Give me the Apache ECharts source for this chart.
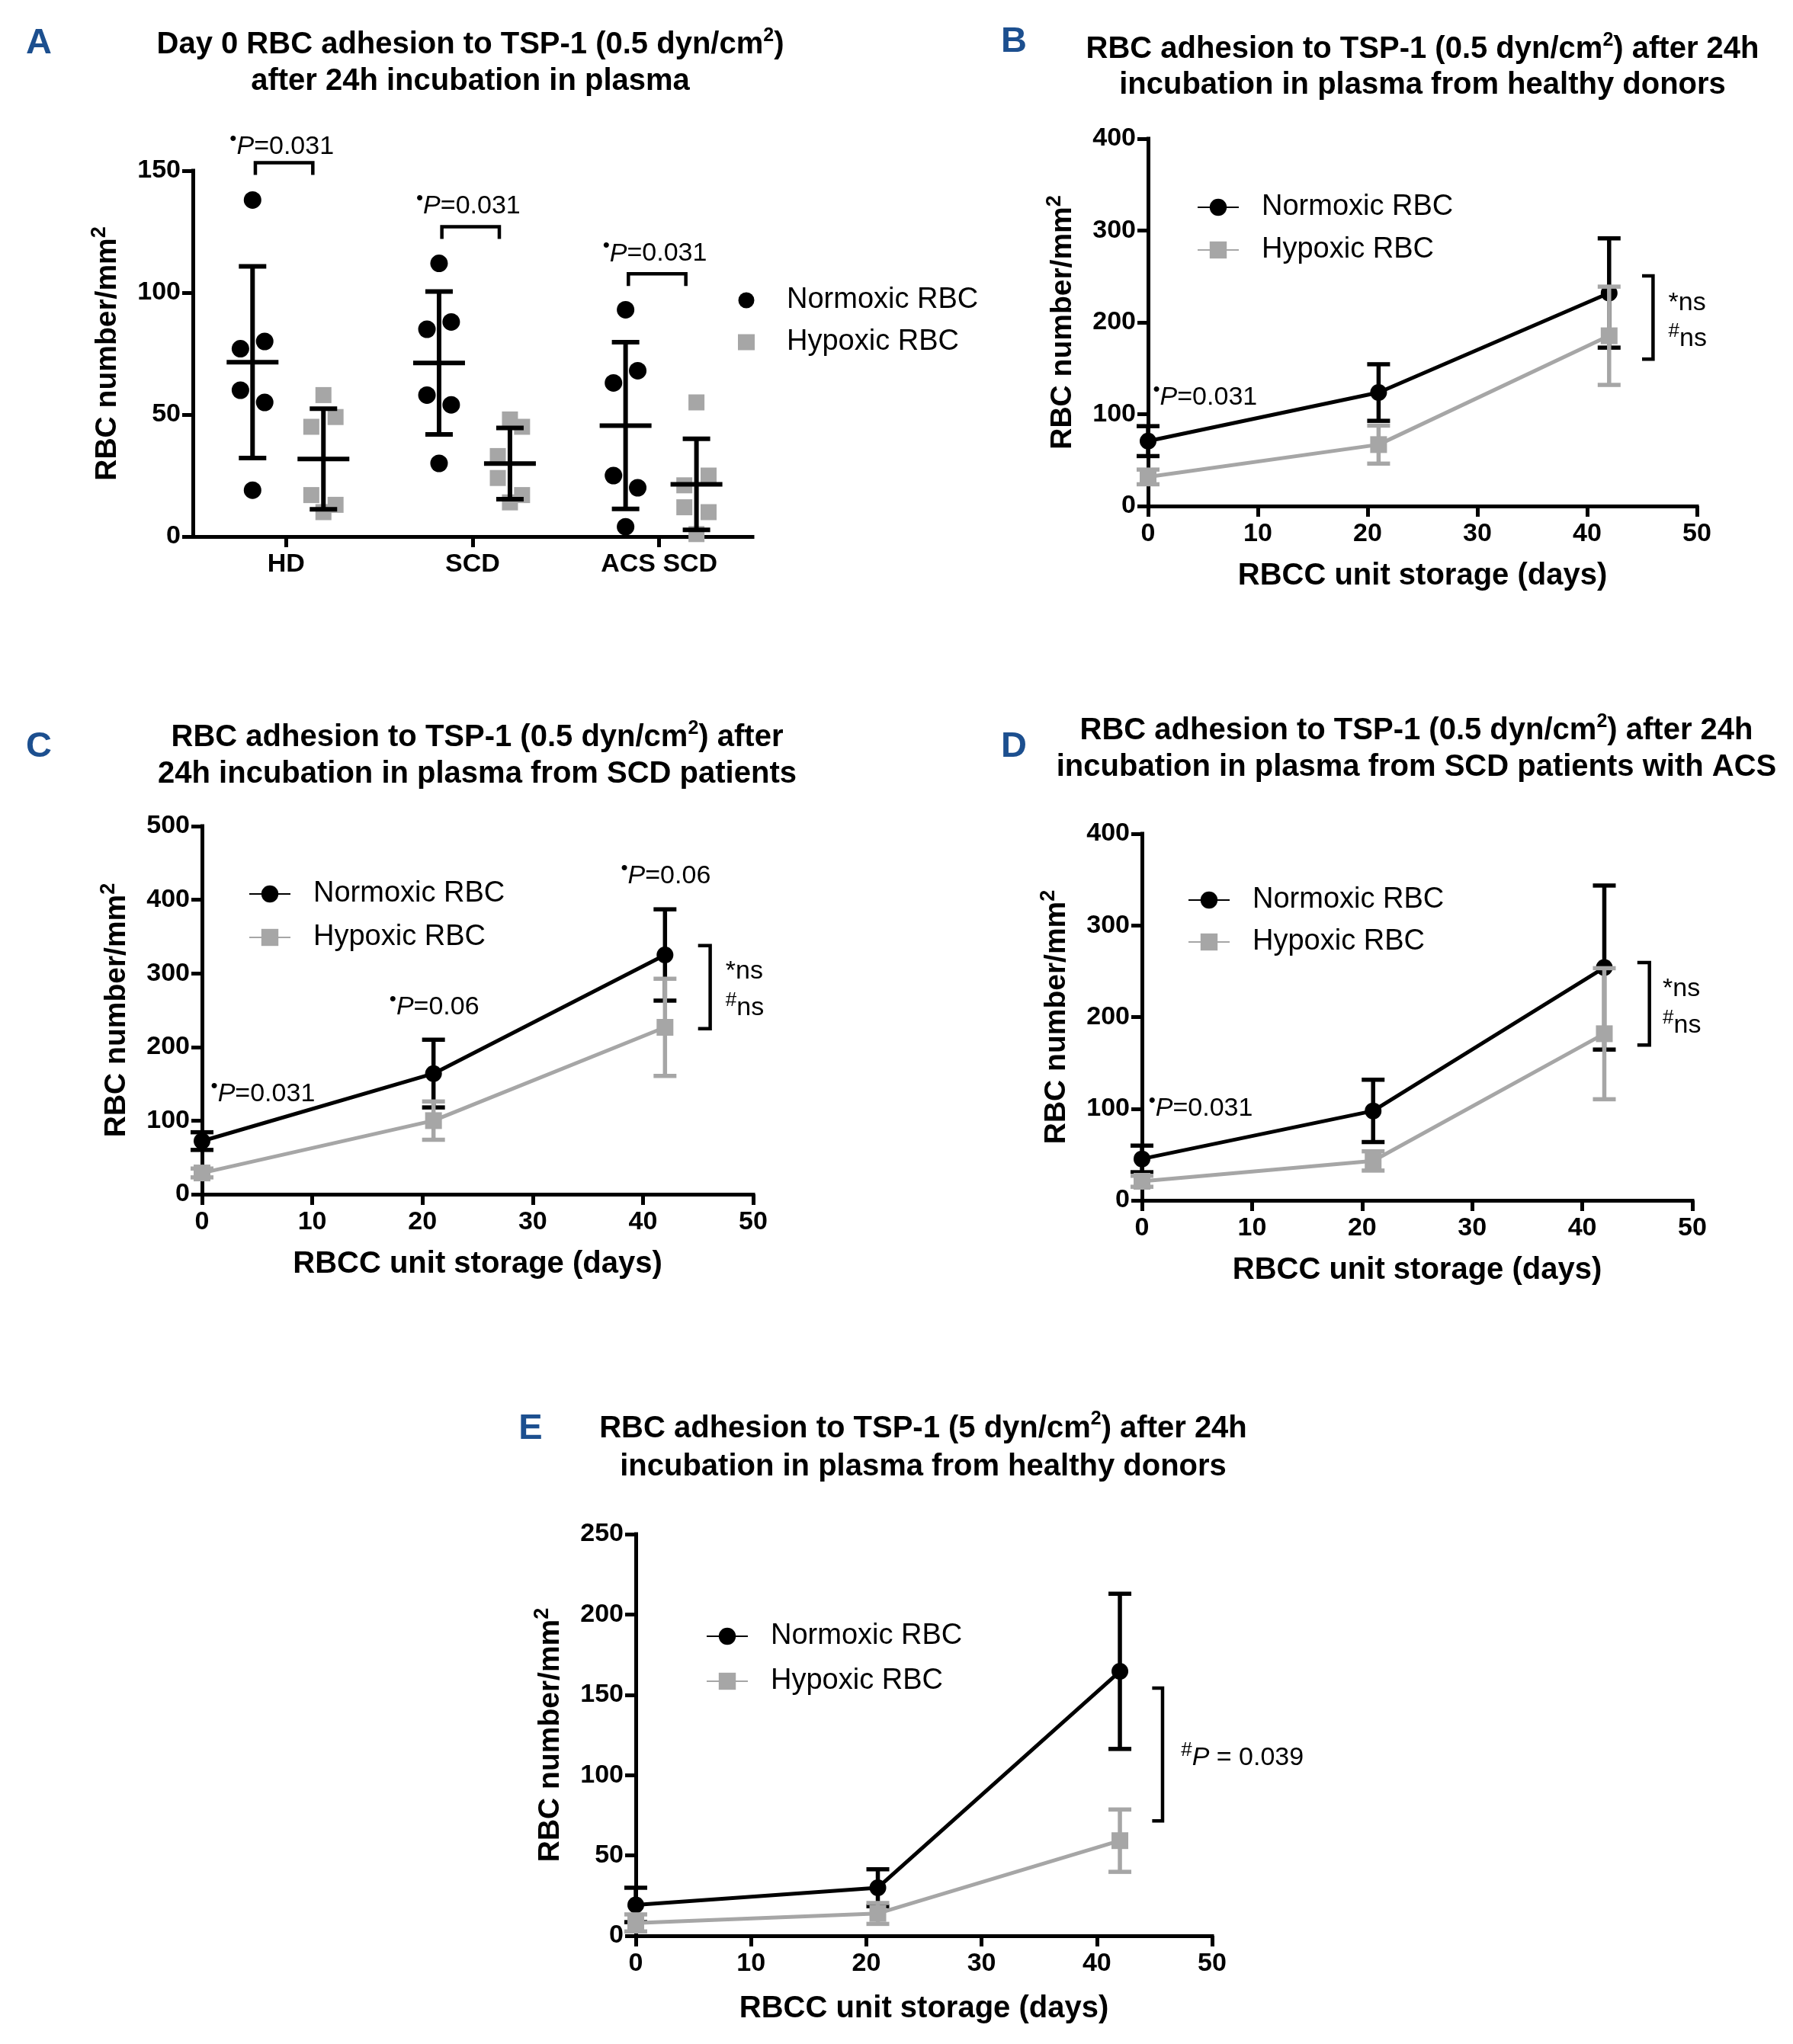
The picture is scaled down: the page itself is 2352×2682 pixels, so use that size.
<!DOCTYPE html>
<html><head><meta charset="utf-8">
<script src="https://cdn.jsdelivr.net/npm/echarts@6/dist/echarts.min.js"></script>
<style>html,body{margin:0;padding:0;background:#fff}#c{width:2352px;height:2682px}</style>
</head><body><div id="c"></div>
<script>
// ---------------- DATA ----------------
// Panel A (individual donors, RBC number/mm2)
const groupsA = ['HD', 'SCD', 'ACS SCD'];
const normoxA = [[138, 80, 77, 60, 55, 19], [112, 88, 85, 58, 54, 30], [93, 68, 63, 25, 20, 4]];
const hypoxA = [[58, 49, 45, 17, 13, 10], [48, 45, 33, 24, 17, 14], [55, 25, 21, 12, 10, 1]];
const normoxMeanA = [71.5, 71.2, 45.5];
const normoxSdA = [39.3, 29.3, 34.2];
const hypoxMeanA = [31.8, 29.9, 21.4];
const hypoxSdA = [20.6, 14.6, 18.7];
const jitterA = [0, 1, -1, -1, 1, 0];
const pTextA = ['0.031', '0.031', '0.031'];

// Panels B-E (storage days)
const days = [0, 21, 42];
const normoxB = [70.7, 123.6, 232];   const normoxSdB = [16.3, 30.8, 59.5];
const hypoxB = [31.7, 66.9, 185.4];   const hypoxSdB = [8, 20.7, 53.5];
const normoxC = [72.2, 163.9, 325];   const normoxSdC = [12, 46, 62];
const hypoxC = [28.9, 100, 226.7];    const hypoxSdC = [6, 26, 66];
const normoxD = [45.2, 97.6, 254];    const normoxSdD = [14.5, 34, 89.5];
const hypoxD = [20.8, 43, 181.8];     const hypoxSdD = [6, 10.5, 71.5];
const normoxE = [19.2, 29.9, 164.6];  const normoxSdE = [10.7, 11.5, 48.3];
const hypoxE = [8, 13.9, 59.2];       const hypoxSdE = [5.3, 6.5, 19.4];

const xTicksDays = [0, 10, 20, 30, 40, 50];

// ---------------- STYLE / LAYOUT ----------------
const FONT = "'Liberation Sans', Arial, Helvetica, sans-serif";
const BLACK = '#000000';
const GRAY = '#a6a6a6';
const BLUE = '#1c4f8f';

const grids = [
  {left: 253, top: 224, width: 734, height: 480},   // A
  {left: 1506, top: 182, width: 720, height: 482},  // B
  {left: 265, top: 1084, width: 723, height: 483},  // C
  {left: 1498, top: 1094, width: 722, height: 481}, // D
  {left: 834, top: 2013, width: 756, height: 527}   // E
];

const titleCfg = [
  {x: 617, top: 35, text: 'Day 0 RBC adhesion to TSP-1 (0.5 dyn/cm{sup|2})\nafter 24h incubation in plasma', lh: 48},
  {x: 1866, top: 41, text: 'RBC adhesion to TSP-1 (0.5 dyn/cm{sup|2}) after 24h\nincubation in plasma from healthy donors', lh: 47},
  {x: 626, top: 944, text: 'RBC adhesion to TSP-1 (0.5 dyn/cm{sup|2}) after\n24h incubation in plasma from SCD patients', lh: 48},
  {x: 1858, top: 935, text: 'RBC adhesion to TSP-1 (0.5 dyn/cm{sup|2}) after 24h\nincubation in plasma from SCD patients with ACS', lh: 48},
  {x: 1211, top: 1850, text: 'RBC adhesion to TSP-1 (5 dyn/cm{sup|2}) after 24h\nincubation in plasma from healthy donors', lh: 50}
];
const letterCfg = [
  {t: 'A', x: 51, y: 57}, {t: 'B', x: 1330, y: 55}, {t: 'C', x: 51, y: 980},
  {t: 'D', x: 1330, y: 980}, {t: 'E', x: 696, y: 1875}
];
const legendCfg = [
  {left: 968, top: 372, gap: 11},
  {left: 1570, top: 250, gap: 12},
  {left: 326, top: 1151, gap: 13},
  {left: 1558, top: 1159, gap: 11},
  {left: 926, top: 2125, gap: 15}
];

// annotation placements (data coordinates)
const bracketA = {x1: 0.335, x2: 0.643, top: [153.3, 127, 107.7], leg: 5, textX: 0.477, textY: [159.7, 135.3, 115.9]};
const bracketsBE = [
  [46.0, 250.6, 160, 45.0],
  [46.1, 337.8, 225, 45.0],
  [46.1, 259.4, 169.4, 45.0],
  [45.7, 154.2, 71.5, 44.8]
];
const annosBE = [
  [{x: 0.45, y: 118, t: '{dot|•}{i|P}=0.031'}, {x: 47.4, y: 221, t: '*ns'}, {x: 47.4, y: 182, t: '{sup|#}ns'}],
  [{x: 0.8, y: 136, t: '{dot|•}{i|P}=0.031'}, {x: 17, y: 254, t: '{dot|•}{i|P}=0.06'}, {x: 38, y: 432, t: '{dot|•}{i|P}=0.06'},
   {x: 47.5, y: 303, t: '*ns'}, {x: 47.5, y: 253, t: '{sup|#}ns'}],
  [{x: 0.6, y: 100, t: '{dot|•}{i|P}=0.031'}, {x: 47.3, y: 231, t: '*ns'}, {x: 47.3, y: 190.7, t: '{sup|#}ns'}],
  [{x: 47.3, y: 110.7, t: '{sup|#}{i|P} = 0.039'}]
];
const yRange = [[0, 150, 50], [0, 400, 100], [0, 500, 100], [0, 400, 100], [0, 250, 50]];
const nameGapX = [0, 72, 72, 72, 76];

const annoRich = {
  dot: {fontFamily: FONT, fontSize: 26, verticalAlign: 'top', lineHeight: 24, fill: BLACK, color: BLACK},
  i: {fontFamily: FONT, fontSize: 34, fontStyle: 'italic', lineHeight: 46, fill: BLACK, color: BLACK},
  t: {fontFamily: FONT, fontSize: 34, lineHeight: 46, fill: BLACK, color: BLACK},
  sup: {fontFamily: FONT, fontSize: 26, verticalAlign: 'top', lineHeight: 24, fill: BLACK, color: BLACK}
};

// ---------------- BUILD ----------------
const chart = echarts.init(document.getElementById('c'));

function axisLook() {
  return {
    axisLine: {show: true, onZero: false, lineStyle: {color: BLACK, width: 5, cap: 'square'}},
    axisTick: {show: true, length: 14, lineStyle: {color: BLACK, width: 5}},
    axisLabel: {color: BLACK, fontFamily: FONT, fontWeight: 'bold', fontSize: 34},
    splitLine: {show: false}
  };
}

const xAxes = [], yAxes = [];
xAxes.push(Object.assign(axisLook(), {
  gridIndex: 0, type: 'category', data: groupsA, boundaryGap: true, position: 'bottom',
  axisTick: {show: true, alignWithLabel: true, length: 14, lineStyle: {color: BLACK, width: 5}}
}));
xAxes[0].axisLabel.margin = 20;
xAxes.push({gridIndex: 0, type: 'value', min: 0, max: 3, show: false, position: 'bottom'});
for (let p = 1; p <= 4; p++) {
  const ax = Object.assign(axisLook(), {
    gridIndex: p, type: 'value', min: xTicksDays[0], max: xTicksDays[xTicksDays.length - 1],
    interval: xTicksDays[1] - xTicksDays[0],
    name: 'RBCC unit storage (days)', nameLocation: 'middle', nameGap: nameGapX[p],
    nameTextStyle: {fontFamily: FONT, fontWeight: 'bold', fontSize: 40, color: BLACK}
  });
  ax.axisLabel.margin = 20;
  xAxes.push(ax);
}
for (let p = 0; p <= 4; p++) {
  const ax = Object.assign(axisLook(), {
    gridIndex: p, type: 'value', min: yRange[p][0], max: yRange[p][1], interval: yRange[p][2],
    name: 'RBC number/mm{sup|2}', nameLocation: 'middle', nameGap: 88, nameRotate: 90,
    nameTextStyle: {fontFamily: FONT, fontWeight: 'bold', fontSize: 39, color: BLACK, lineHeight: 48,
      rich: {sup: {fontFamily: FONT, fontWeight: 'bold', fontSize: 27, verticalAlign: 'top', lineHeight: 26, color: BLACK}}}
  });
  ax.axisLabel.margin = 16;
  yAxes.push(ax);
}

function barRender(color, capW, meanW, lw) {
  return function (params, api) {
    const x = api.value(0), m = api.value(1), sd = api.value(2);
    const t = api.coord([x, m + sd]), b = api.coord([x, m - sd]), c = api.coord([x, m]);
    const st = {stroke: color, lineWidth: lw, fill: null};
    const ch = [
      {type: 'line', shape: {x1: t[0], y1: t[1], x2: b[0], y2: b[1]}, style: st},
      {type: 'line', shape: {x1: t[0] - capW / 2, y1: t[1], x2: t[0] + capW / 2, y2: t[1]}, style: st},
      {type: 'line', shape: {x1: b[0] - capW / 2, y1: b[1], x2: b[0] + capW / 2, y2: b[1]}, style: st}
    ];
    if (meanW) ch.push({type: 'line', shape: {x1: c[0] - meanW / 2, y1: c[1], x2: c[0] + meanW / 2, y2: c[1]}, style: st});
    return {type: 'group', children: ch};
  };
}

// wrap plain parts of annotation text in a tall-line token so superscripts rise
function richify(s) {
  return s.split(/(\{[a-z]+\|[^}]*\})/).filter(x => x).map(x => x.charAt(0) === '{' ? x : '{t|' + x + '}').join('');
}

const series = [];
const nA = [], hA = [], nBarA = [], hBarA = [];
groupsA.forEach((g, gi) => {
  normoxA[gi].forEach((v, k) => nA.push([gi + 0.32 + jitterA[k] * 0.065, v]));
  hypoxA[gi].forEach((v, k) => hA.push([gi + 0.70 + jitterA[k] * 0.065, v]));
  nBarA.push([gi + 0.32, normoxMeanA[gi], normoxSdA[gi]]);
  hBarA.push([gi + 0.70, hypoxMeanA[gi], hypoxSdA[gi]]);
});
series.push({type: 'scatter', name: 'Normoxic RBC|A', xAxisIndex: 1, yAxisIndex: 0, data: nA,
  symbol: 'circle', symbolSize: 23, itemStyle: {color: BLACK, opacity: 1}, z: 2, silent: true});
series.push({type: 'scatter', name: 'Hypoxic RBC|A', xAxisIndex: 1, yAxisIndex: 0, data: hA,
  symbol: 'rect', symbolSize: 21, itemStyle: {color: GRAY, opacity: 1}, z: 2, silent: true});
series.push({type: 'custom', xAxisIndex: 1, yAxisIndex: 0, data: nBarA, renderItem: barRender(BLACK, 36, 68, 6), z: 4, silent: true});
series.push({type: 'custom', xAxisIndex: 1, yAxisIndex: 0, data: hBarA, renderItem: barRender(BLACK, 36, 68, 6), z: 4, silent: true});
series.push({type: 'custom', xAxisIndex: 1, yAxisIndex: 0, z: 5, silent: true,
  data: groupsA.map((g, gi) => [gi + bracketA.x1, bracketA.top[gi], gi + bracketA.x2, bracketA.textY[gi], gi + bracketA.textX]),
  renderItem: function (params, api) {
    const x1 = api.value(0), yt = api.value(1), x2 = api.value(2), ty = api.value(3), tx = api.value(4);
    const a = api.coord([x1, yt - bracketA.leg]), b = api.coord([x1, yt]), c = api.coord([x2, yt]), d = api.coord([x2, yt - bracketA.leg]);
    const tp = api.coord([tx, ty]);
    return {type: 'group', children: [
      {type: 'polyline', shape: {points: [a, b, c, d]}, style: {stroke: BLACK, lineWidth: 4.5, fill: null}},
      {type: 'text', x: tp[0], y: tp[1], style: {text: richify('{dot|•}{i|P}=' + pTextA[params.dataIndex]), rich: annoRich,
        fontFamily: FONT, fontSize: 34, fill: BLACK, align: 'center', verticalAlign: 'middle'}}
    ]};
  }});

const lineSets = [
  [normoxB, normoxSdB, hypoxB, hypoxSdB],
  [normoxC, normoxSdC, hypoxC, hypoxSdC],
  [normoxD, normoxSdD, hypoxD, hypoxSdD],
  [normoxE, normoxSdE, hypoxE, hypoxSdE]
];
const letters = ['B', 'C', 'D', 'E'];
lineSets.forEach((set, i) => {
  const xi = i + 2, yi = i + 1, L = letters[i];
  const [nv, nsd, hv, hsd] = set;
  series.push({type: 'custom', xAxisIndex: xi, yAxisIndex: yi, z: 2, silent: true,
    data: days.map((d, k) => [d, nv[k], nsd[k]]), renderItem: barRender(BLACK, 30, 0, 5.5)});
  series.push({type: 'line', name: 'Normoxic RBC|' + L, xAxisIndex: xi, yAxisIndex: yi, z: 3, silent: true,
    data: days.map((d, k) => [d, nv[k]]), symbol: 'circle', symbolSize: 22, showSymbol: true,
    lineStyle: {color: BLACK, width: 5}, itemStyle: {color: BLACK}});
  series.push({type: 'custom', xAxisIndex: xi, yAxisIndex: yi, z: 4, silent: true,
    data: days.map((d, k) => [d, hv[k], hsd[k]]), renderItem: barRender(GRAY, 30, 0, 5.5)});
  series.push({type: 'line', name: 'Hypoxic RBC|' + L, xAxisIndex: xi, yAxisIndex: yi, z: 5, silent: true,
    data: days.map((d, k) => [d, hv[k]]), symbol: 'rect', symbolSize: 22, showSymbol: true,
    lineStyle: {color: GRAY, width: 5}, itemStyle: {color: GRAY}});
  series.push({type: 'custom', xAxisIndex: xi, yAxisIndex: yi, z: 6, silent: true,
    data: [bracketsBE[i]],
    renderItem: function (params, api) {
      const x = api.value(0), yt = api.value(1), yb = api.value(2), xt = api.value(3);
      const pts = [api.coord([xt, yt]), api.coord([x, yt]), api.coord([x, yb]), api.coord([xt, yb])];
      return {type: 'polyline', shape: {points: pts}, style: {stroke: BLACK, lineWidth: 4.5, fill: null}};
    }});
  const an = annosBE[i];
  series.push({type: 'custom', xAxisIndex: xi, yAxisIndex: yi, z: 6, silent: true,
    data: an.map(a => [a.x, a.y]),
    renderItem: function (params, api) {
      const p = api.coord([api.value(0), api.value(1)]);
      return {type: 'text', x: p[0], y: p[1], style: {text: richify(an[params.dataIndex].t), rich: annoRich,
        fontFamily: FONT, fontSize: 34, fill: BLACK, align: 'left', verticalAlign: 'middle'}};
    }});
});

const titles = [];
titleCfg.forEach(t => titles.push({
  text: t.text, left: t.x, top: t.top, textAlign: 'center', padding: 0,
  textStyle: {fontFamily: FONT, fontWeight: 'bold', fontSize: 40, color: BLACK, lineHeight: t.lh,
    rich: {sup: {fontFamily: FONT, fontWeight: 'bold', fontSize: 25, verticalAlign: 'top', lineHeight: 24, color: BLACK}}}
}));
letterCfg.forEach(l => titles.push({
  text: l.t, left: l.x, top: l.y - 26, textAlign: 'center', padding: 0,
  textStyle: {fontFamily: FONT, fontWeight: 'bold', fontSize: 47, color: BLUE, lineHeight: 52}
}));

const legends = legendCfg.map((c, p) => {
  const L = 'ABCDE'[p];
  const isA = p === 0;
  return {
    orient: 'vertical', left: c.left, top: c.top, padding: 0, itemGap: c.gap,
    itemWidth: isA ? 22 : 54, itemHeight: isA ? 21 : 28,
    selectedMode: false,
    data: isA ? [{name: 'Normoxic RBC|A', icon: 'circle'}, {name: 'Hypoxic RBC|A', icon: 'rect'}]
              : ['Normoxic RBC|' + L, 'Hypoxic RBC|' + L],
    formatter: n => n.split('|')[0],
    textStyle: {fontFamily: FONT, fontSize: 38, color: BLACK, lineHeight: 44, padding: [0, 0, 0, isA ? 37 : 25]}
  };
});

chart.setOption({
  animation: false,
  backgroundColor: '#ffffff',
  title: titles,
  legend: legends,
  grid: grids,
  xAxis: xAxes,
  yAxis: yAxes,
  series: series
});
</script></body></html>
